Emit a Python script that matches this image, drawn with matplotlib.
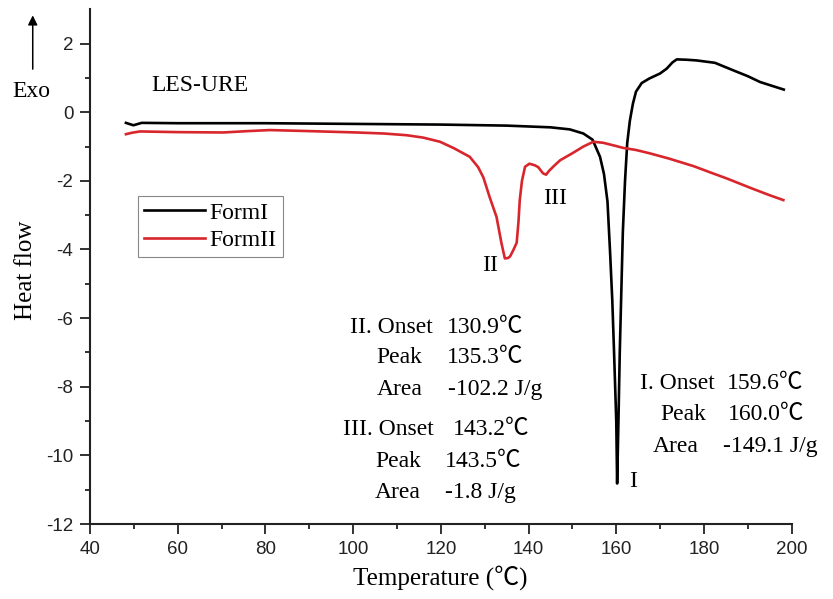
import matplotlib as mpl
import matplotlib.pyplot as plt

mpl.use('Agg')

# DSC curves of LES-URE
form1_temp = [48.2, 49.9, 51.8, 60, 80, 100, 120, 135, 145, 149.4, 152.5, 154.6, 156.3, 157.2, 158.0,
              158.6, 159.1, 159.5, 160.0, 160.2, 160.5, 160.8, 161.2, 161.5, 162.0, 162.5, 163.1, 163.8,
              164.5, 165.8, 167.5, 170.0, 171.5, 172.8, 173.8, 176.0, 178.3, 182.5, 186.7, 190.0, 192.8,
              195.5, 198.2]
form1_flow = [-0.31, -0.38, -0.31, -0.32, -0.32, -0.34, -0.36, -0.39, -0.44, -0.50, -0.62, -0.80, -1.3,
              -1.8, -2.6, -4.1, -5.5, -7.0, -9.0, -10.82, -9.0, -7.0, -5.0, -3.5, -2.0, -0.9, -0.25, 0.25,
              0.6, 0.85, 0.98, 1.13, 1.27, 1.45, 1.54, 1.53, 1.51, 1.44, 1.22, 1.05, 0.88, 0.77, 0.66]

form2_temp = [48.2, 49.5, 51.4, 60, 70.4, 76, 81, 90, 100.8, 107, 112.2, 116, 119.8, 123, 126.6, 128.5,
              129.7, 131.2, 132.7, 133.8, 134.6, 135.3, 135.8, 136.6, 137.3, 137.7, 138.0, 138.5, 139.2,
              140.2, 141.5, 142.2, 143.3, 144.0, 144.6, 145.6, 147.2, 150.2, 152.5, 154.8, 157, 159.5,
              161.6, 164.5, 167.7, 172, 177.6, 182, 185.2, 190.5, 195, 198.1]
form2_flow = [-0.64, -0.60, -0.56, -0.58, -0.59, -0.55, -0.52, -0.55, -0.59, -0.62, -0.67, -0.74, -0.86,
              -1.05, -1.30, -1.6, -1.9, -2.5, -3.05, -3.8, -4.26, -4.25, -4.2, -4.0, -3.8, -3.2, -2.56,
              -2.0, -1.59, -1.5, -1.55, -1.6, -1.78, -1.82, -1.72, -1.59, -1.40, -1.18, -1.0, -0.86,
              -0.89, -0.97, -1.04, -1.1, -1.2, -1.35, -1.57, -1.78, -1.93, -2.2, -2.42, -2.56]

x_ticks = [40, 60, 80, 100, 120, 140, 160, 180, 200]
y_ticks = [2, 0, -2, -4, -6, -8, -10, -12]

peak_labels = ['I', 'II', 'III']
peak_pos = [(163.8, -10.77), (131.2, -4.46), (146.0, -2.52)]

# (label, value, label x, value x, baseline y)
info_rows = [
    ('II. Onset', '130.9℃', 99.3, 121.5, -6.43),
    ('Peak', '135.3℃', 105.4, 121.3, -7.32),
    ('Area', '-102.2 J/g', 105.4, 121.7, -8.24),
    ('III. Onset', '143.2℃', 97.6, 122.8, -9.41),
    ('Peak', '143.5℃', 105.0, 120.9, -10.33),
    ('Area', '-1.8 J/g', 105.0, 120.9, -11.25),
    ('I. Onset', '159.6℃', 165.4, 185.3, -8.08),
    ('Peak', '160.0℃', 170.0, 185.5, -8.97),
    ('Area', '-149.1 J/g', 168.4, 184.4, -9.90),
]

SERIF = ['Liberation Serif', 'Noto Sans CJK SC', 'DejaVu Sans']
RED = '#d8262c'


def plot_dsc():
    plt.rcParams['font.family'] = ['Liberation Sans', 'DejaVu Sans']
    plt.rcParams['axes.unicode_minus'] = False
    fig = plt.figure(figsize=(8.33, 5.99), dpi=100)
    ax = fig.add_axes([0.108, 0.1252, 0.8424, 0.8593])

    ax.plot(form1_temp, form1_flow, color='black', lw=1.9, label='FormI')
    ax.plot(form2_temp, form2_flow, color=RED, lw=1.9, label='FormII')

    ax.set_xlim(40, 200)
    ax.set_ylim(-12, 3)
    ax.set_xticks(x_ticks)
    ax.set_yticks(y_ticks)
    ax.set_xticks([50, 70, 90, 110, 130, 150, 170, 190], minor=True)
    ax.set_yticks([1, -1, -3, -5, -7, -9, -11], minor=True)
    ax.spines['top'].set_visible(False)
    ax.spines['right'].set_visible(False)
    for s in ('left', 'bottom'):
        ax.spines[s].set_linewidth(1.5)
        ax.spines[s].set_color('#222222')
    ax.tick_params(which='major', length=7, width=1.3, labelsize=13.5, pad=5, colors='#222222')
    ax.tick_params(which='minor', length=3.6, width=1.3, colors='#222222')

    ax.set_xlabel('Temperature (℃)', family=SERIF, fontsize=18, va='center')
    ax.xaxis.set_label_coords(0.499, -0.105)
    ax.set_ylabel('Heat flow', family=SERIF, fontsize=18, va='center')
    ax.yaxis.set_label_coords(-0.091, 0.4935)

    leg = ax.legend(loc='upper left', bbox_to_anchor=(0.068, 0.637), borderaxespad=0,
                    prop={'family': SERIF, 'size': 17}, fancybox=False, framealpha=1,
                    edgecolor='#888888', handlelength=2.6, handletextpad=0.2,
                    borderpad=0.25, labelspacing=0.25)
    leg.get_frame().set_linewidth(0.8)

    ax.text(54.1, 0.62, 'LES-URE', family=SERIF, fontsize=17, va='baseline')
    fig.text(0.0152, 0.8376, 'Exo', family=SERIF, fontsize=17, va='baseline')
    fig.add_artist(mpl.patches.FancyArrowPatch((0.0393, 0.880), (0.0393, 0.979),
                                               transform=fig.transFigure, arrowstyle='-|>',
                                               mutation_scale=14, lw=1.1, color='black'))

    for lab, (px, py) in zip(peak_labels, peak_pos):
        ax.text(px, py, lab, family=SERIF, fontsize=17, ha='center', va='center')

    for name, val, xn, xv, yb in info_rows:
        ax.text(xn, yb, name, family=SERIF, fontsize=17, va='baseline')
        ax.text(xv, yb, val, family=SERIF, fontsize=17, va='baseline')

    fig.savefig('out.png', dpi=100)


def main():
    plot_dsc()


main()
